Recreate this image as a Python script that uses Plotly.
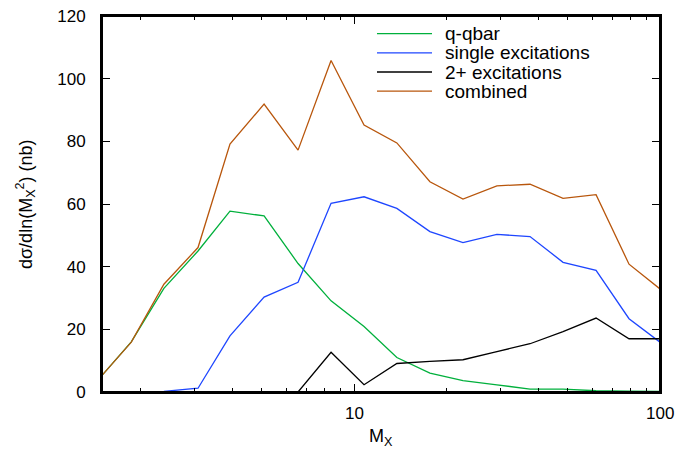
import math
import plotly.graph_objects as go

# M_X bin centres
mx = [1.5, 1.87, 2.39, 3.09, 3.93, 5.08, 6.56, 8.41, 10.78, 13.8, 17.7, 22.7, 29.3, 37.6, 48.2, 61.8, 79.2, 100.0]

qqbar = [5.3, 16.0, 33.1, 45.0, 57.7, 56.2, 41.0, 29.1, 20.9, 11.0, 6.0, 3.6, 2.3, 0.9, 0.9, 0.4, 0.3, 0.2]
single = [0.0, 0.0, 0.2, 1.2, 17.9, 30.3, 35.0, 60.2, 62.3, 58.6, 51.2, 47.7, 50.3, 49.6, 41.4, 38.8, 23.4, 15.9]
mx_multi = [6.56, 8.41, 10.78, 13.8, 17.7, 22.7, 29.3, 37.6, 48.2, 61.8, 79.2, 100.0]
multi = [0.0, 12.7, 2.3, 9.1, 9.8, 10.3, 12.9, 15.4, 19.3, 23.6, 17.0, 17.0]
combined = [5.3, 15.9, 34.4, 46.1, 79.1, 91.9, 77.2, 105.8, 85.2, 79.5, 67.1, 61.6, 65.8, 66.3, 61.8, 63.0, 40.8, 32.9]

x_major = [10, 100]
x_major_labels = ["10", "100"]
x_minor = [2, 3, 4, 5, 6, 7, 8, 9, 20, 30, 40, 50, 60, 70, 80, 90]

names = ["q-qbar", "single excitations", "2+ excitations", "combined"]
colors = ["#00b03c", "#1e46ff", "#000000", "#b8560c"]

fig = go.Figure()
for xs, ys, n, c in [(mx, qqbar, names[0], colors[0]),
                     (mx, single, names[1], colors[1]),
                     (mx_multi, multi, names[2], colors[2]),
                     (mx, combined, names[3], colors[3])]:
    fig.add_trace(go.Scatter(x=xs, y=ys, mode="lines", name=n, showlegend=False,
                             line=dict(color=c, width=1.3)))

# invisible trace so the mirrored top axis (with its ticks) is drawn
fig.add_trace(go.Scatter(x=mx, y=combined, xaxis="x2", mode="lines", opacity=0,
                         line=dict(width=0), showlegend=False, hoverinfo="skip"))

# legend drawn manually (compact row spacing like the reference)
leg_y = [0.953, 0.902, 0.851, 0.800]
for n, c, yy in zip(names, colors, leg_y):
    fig.add_shape(type="line", xref="paper", yref="paper",
                  x0=0.4928, x1=0.5914, y0=yy, y1=yy,
                  line=dict(color=c, width=1.3))
    fig.add_annotation(xref="paper", yref="paper", x=0.611, y=yy,
                       xanchor="left", yanchor="middle", showarrow=False,
                       text=n, font=dict(size=19))

# plot frame
fig.add_shape(type="rect", xref="paper", yref="paper", x0=0, x1=1, y0=0, y1=1,
              line=dict(color="black", width=2), layer="above")

# x tick labels (placed a little further from the axis, as in the reference)
for v, t in zip(x_major, x_major_labels):
    fig.add_annotation(xref="x", yref="paper", x=math.log10(v), y=0, yshift=-21,
                       xanchor="center", yanchor="middle", showarrow=False,
                       text=t, font=dict(size=17))

# axis titles
fig.add_annotation(xref="paper", yref="paper", x=0.5, y=0, yshift=-45,
                   xanchor="center", yanchor="middle", showarrow=False,
                   text="M<sub>X</sub>", font=dict(size=18))
fig.add_annotation(xref="paper", yref="paper", x=0, y=0.5, xshift=-77,
                   xanchor="center", yanchor="middle", showarrow=False,
                   textangle=-90,
                   text="dσ/dln(M<sub>X</sub><sup>2</sup>) (nb)", font=dict(size=18))

xcommon = dict(type="log", range=[0.17609, 2], tickvals=x_major,
               showticklabels=False, automargin=False,
               ticks="inside", ticklen=8, tickwidth=1.3, tickcolor="black",
               minor=dict(ticks="inside", ticklen=4, tickwidth=1.3,
                          tickvals=x_minor, tickcolor="black", showgrid=False),
               showline=True, linewidth=2, linecolor="black",
               showgrid=False, zeroline=False)

font = "Liberation Sans, Arial, Helvetica, sans-serif"
fig.update_layout(
    width=679, height=450,
    margin=dict(l=102, r=19, t=16, b=58, autoexpand=False),
    paper_bgcolor="white", plot_bgcolor="white",
    font=dict(family=font, size=17, color="black"),
    showlegend=False,
    xaxis=dict(**xcommon),
    xaxis2=dict(**xcommon, overlaying="x", side="top", anchor="y"),
    yaxis=dict(range=[0, 120], dtick=20, automargin=False,
               ticks="inside", ticklen=8, tickwidth=1.3, tickcolor="black",
               showline=True, linewidth=2, linecolor="black", mirror="ticks",
               showgrid=False, zeroline=False, ticklabelstandoff=11),
)
fig.write_html("out.html", config={"displayModeBar": False},
               post_script="document.body.style.margin='0';document.body.style.overflow='hidden';")
